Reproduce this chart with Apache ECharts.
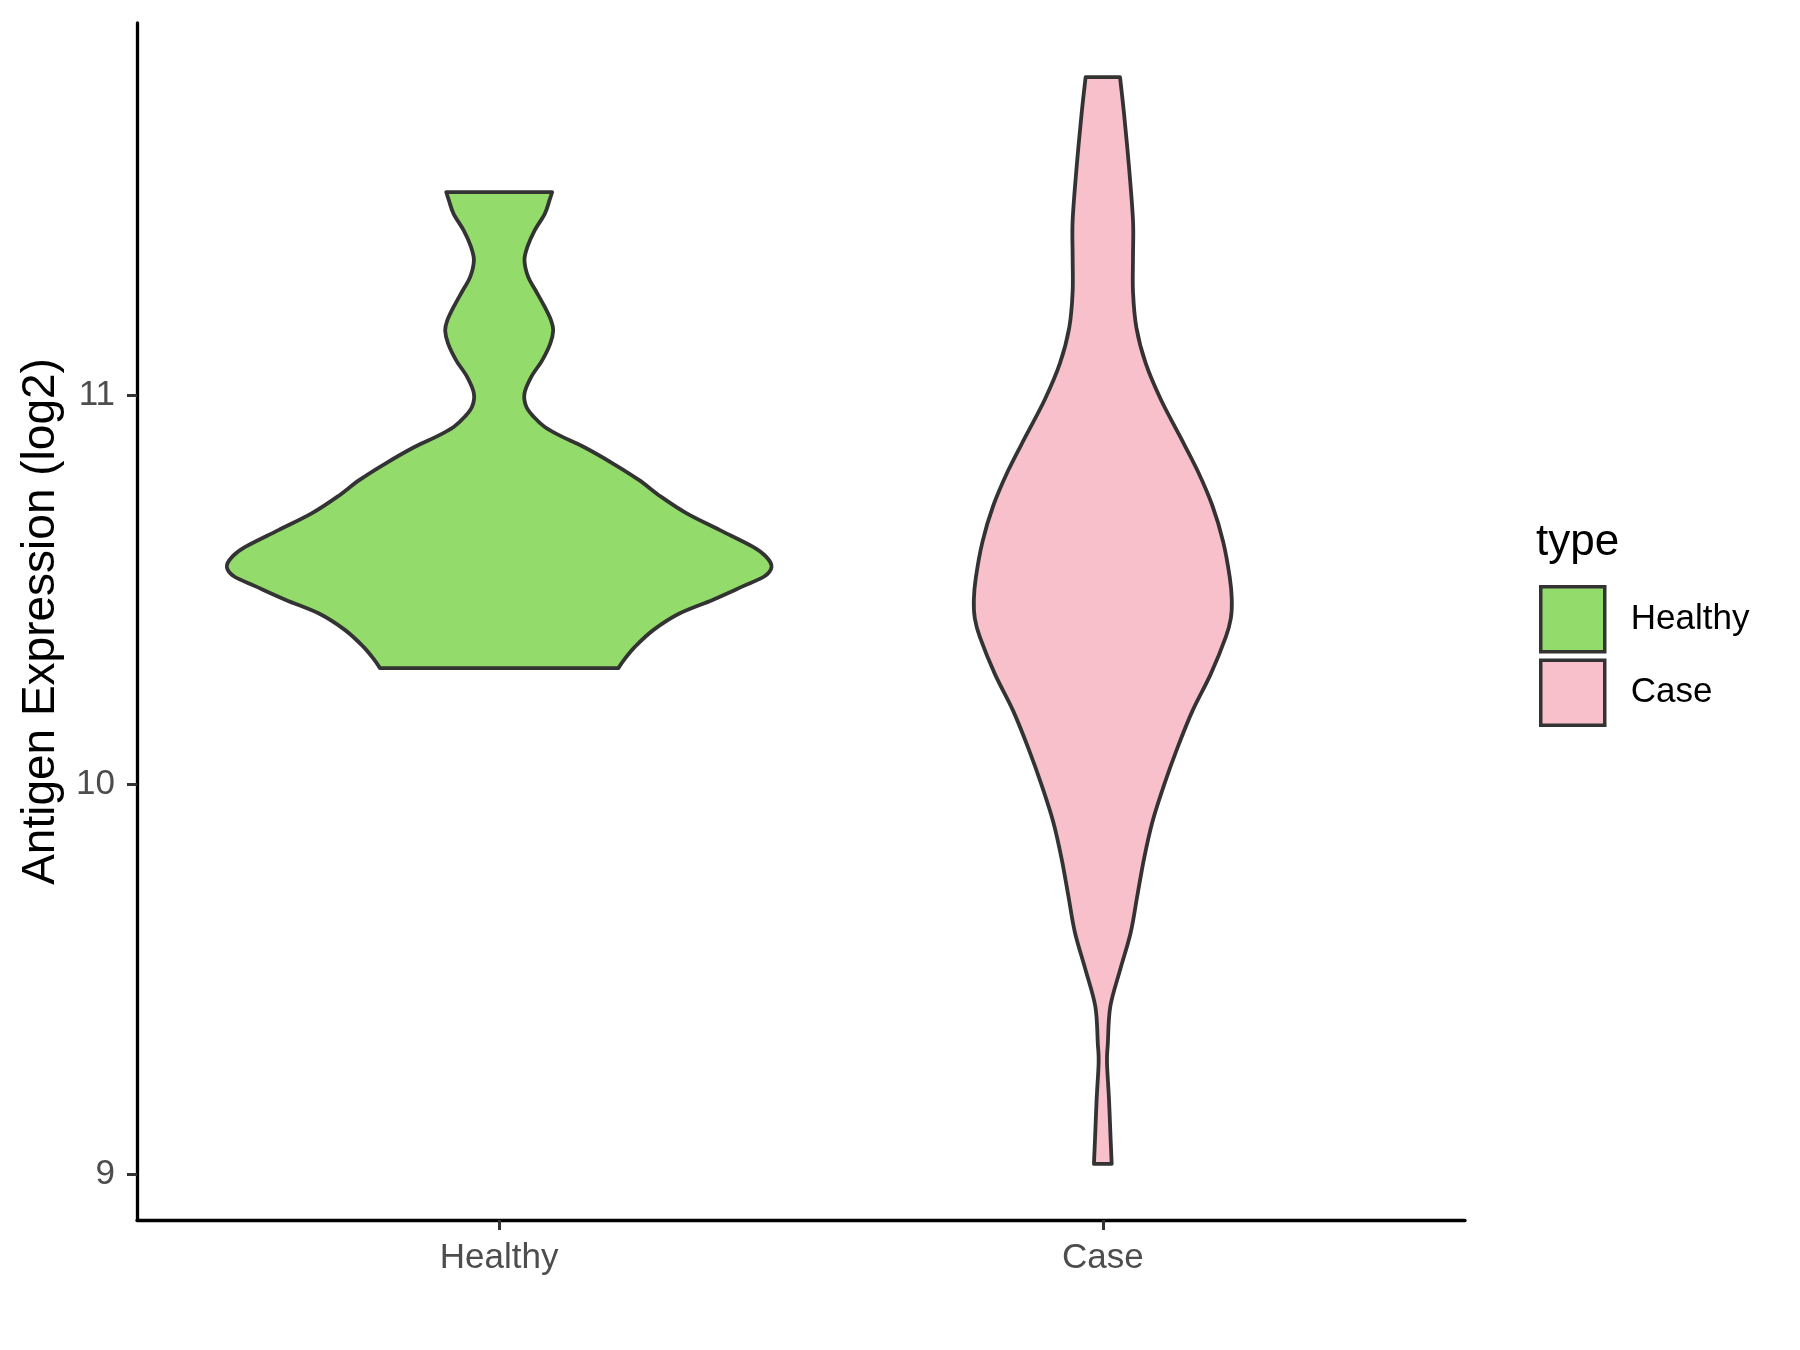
<!DOCTYPE html>
<html>
<head>
<meta charset="utf-8">
<script src="https://cdn.jsdelivr.net/npm/echarts/dist/echarts.min.js"></script>
<style>
html,body{margin:0;padding:0;background:#ffffff;}
#chart{width:1800px;height:1350px;}
</style>
</head>
<body>
<div id="chart"></div>
<script>
// ---- data ----
const categories = ['Healthy', 'Case'];
const yTicks = [9, 10, 11];

// Healthy violin outline: expression level (log2), top to bottom, and half-width of the outline (x units)
const healthyLevels = [11.521, 11.500, 11.465, 11.423, 11.380, 11.346, 11.303, 11.269, 11.226, 11.192,
  11.166, 11.132, 11.089, 11.046, 11.004, 10.970, 10.944, 10.918, 10.893, 10.867,
  10.824, 10.782, 10.739, 10.696, 10.653, 10.610, 10.585, 10.559, 10.534, 10.508,
  10.474, 10.439, 10.397, 10.354, 10.320, 10.299];
const healthyHalfWidth = [0.0877, 0.0834, 0.0755, 0.0590, 0.0467, 0.0419, 0.0480, 0.0602, 0.0755, 0.0858,
  0.0895, 0.0846, 0.0712, 0.0529, 0.0419, 0.0449, 0.0571, 0.0755, 0.1040, 0.1396,
  0.1885, 0.2313, 0.2679, 0.3107, 0.3657, 0.4207, 0.4421, 0.4512, 0.4390, 0.4024,
  0.3535, 0.2985, 0.2557, 0.2252, 0.2068, 0.1977];

// Case violin outline
const caseLevels = [11.816, 11.723, 11.585, 11.448, 11.356, 11.265, 11.173, 11.081, 10.989, 10.898,
  10.806, 10.715, 10.623, 10.531, 10.474, 10.427, 10.379, 10.284, 10.189, 10.094,
  9.999, 9.904, 9.810, 9.715, 9.620, 9.525, 9.430, 9.335, 9.287, 9.193,
  9.098, 9.026];
const caseHalfWidth = [0.0285, 0.0351, 0.0434, 0.0500, 0.0500, 0.0500, 0.0556, 0.0711, 0.0959, 0.1264,
  0.1568, 0.1817, 0.1994, 0.2104, 0.2137, 0.2121, 0.2038, 0.1789, 0.1485, 0.1236,
  0.1015, 0.0821, 0.0683, 0.0572, 0.0462, 0.0288, 0.0124, 0.0083, 0.0069, 0.0102,
  0.0127, 0.0147];

const groupColors = ['#93DB6A', '#F7C0CB'];
const fontFamily = '"Liberation Sans", Arial, Helvetica, sans-serif';

// ---- rendering helpers ----
function catmull(pts) {
  let d = '';
  for (let i = 0; i < pts.length - 1; i++) {
    const p0 = pts[i - 1] || pts[i];
    const p1 = pts[i];
    const p2 = pts[i + 1];
    const p3 = pts[i + 2] || pts[i + 1];
    const c1x = p1[0] + (p2[0] - p0[0]) / 6, c1y = p1[1] + (p2[1] - p0[1]) / 6;
    const c2x = p2[0] - (p3[0] - p1[0]) / 6, c2y = p2[1] - (p3[1] - p1[1]) / 6;
    d += ' C ' + c1x + ' ' + c1y + ' ' + c2x + ' ' + c2y + ' ' + p2[0] + ' ' + p2[1];
  }
  return d;
}

function makeViolinRenderer(levels, halfWidths, color) {
  return function (params, api) {
    const center = api.value(0);
    const right = levels.map((v, i) => api.coord([center + halfWidths[i], v]));
    const left = levels.map((v, i) => api.coord([center - halfWidths[i], v])).reverse();
    let d = 'M ' + right[0][0] + ' ' + right[0][1];
    d += catmull(right);
    d += ' L ' + left[0][0] + ' ' + left[0][1];
    d += catmull(left);
    d += ' Z';
    return {
      type: 'path',
      shape: { pathData: d },
      style: { fill: color, stroke: '#333333', lineWidth: 3.8, lineJoin: 'round' }
    };
  };
}

const chart = echarts.init(document.getElementById('chart'), null, { renderer: 'canvas' });

const option = {
  backgroundColor: '#ffffff',
  animation: false,
  title: {
    text: 'type',
    left: 1536,
    top: 521,
    padding: 0,
    textStyle: { fontSize: 44, fontWeight: 'normal', color: '#000000', fontFamily: fontFamily }
  },
  legend: {
    orient: 'vertical',
    left: 1539,
    top: 585,
    padding: 0,
    itemWidth: 64,
    itemHeight: 65,
    itemGap: 5,
    icon: 'rect',
    selectedMode: false,
    data: categories,
    itemStyle: { borderColor: '#333333', borderWidth: 3.5 },
    textStyle: { fontSize: 35, color: '#000000', fontFamily: fontFamily, padding: [3, 0, 0, 21] }
  },
  grid: { left: 137, right: 335, top: 23, bottom: 130, containLabel: false },
  xAxis: {
    type: 'value',
    min: 0.4,
    max: 2.6,
    splitLine: { show: false },
    axisLine: { show: true, onZero: false, lineStyle: { color: '#000000', width: 3.3 } },
    axisTick: { show: true, customValues: [1, 2], length: 10, lineStyle: { color: '#333333', width: 3 } },
    axisLabel: {
      customValues: [1, 2],
      formatter: function (v) { return categories[Math.round(v) - 1]; },
      color: '#4D4D4D', fontSize: 35, margin: 21, fontFamily: fontFamily
    }
  },
  yAxis: {
    type: 'value',
    min: 8.882,
    max: 11.955,
    name: 'Antigen Expression (log2)',
    nameLocation: 'middle',
    nameGap: 73,
    nameTextStyle: { fontSize: 46, color: '#000000', fontFamily: fontFamily },
    splitLine: { show: false },
    axisLine: { show: true, onZero: false, lineStyle: { color: '#000000', width: 3.3 } },
    axisTick: { show: true, customValues: yTicks, length: 10, lineStyle: { color: '#333333', width: 3 } },
    axisLabel: {
      customValues: yTicks,
      color: '#4D4D4D', fontSize: 35, margin: 22, fontFamily: fontFamily
    }
  },
  series: [
    {
      name: 'Healthy',
      type: 'custom',
      itemStyle: { color: groupColors[0] },
      renderItem: makeViolinRenderer(healthyLevels, healthyHalfWidth, groupColors[0]),
      encode: { x: 0, y: 1 },
      data: [[1, 10.9]]
    },
    {
      name: 'Case',
      type: 'custom',
      itemStyle: { color: groupColors[1] },
      renderItem: makeViolinRenderer(caseLevels, caseHalfWidth, groupColors[1]),
      encode: { x: 0, y: 1 },
      data: [[2, 10.4]]
    }
  ]
};

chart.setOption(option);
</script>
</body>
</html>
